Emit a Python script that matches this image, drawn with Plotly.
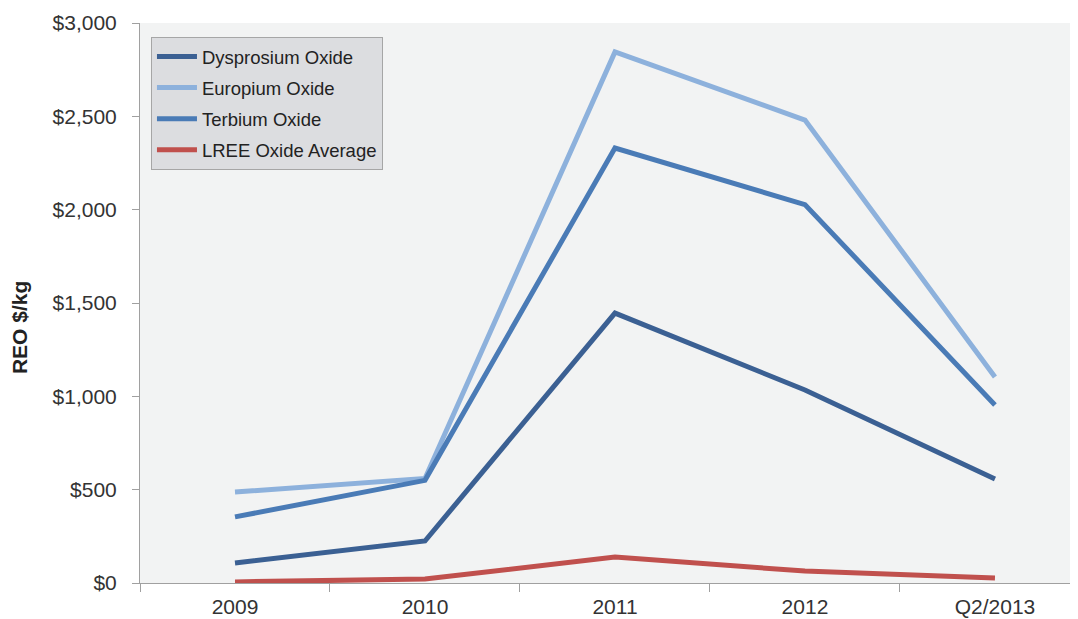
import plotly.graph_objects as go

categories = ["2009", "2010", "2011", "2012", "Q2/2013"]
dysprosium = [107, 225, 1446, 1034, 557]
europium = [487, 560, 2845, 2480, 1104]
terbium = [354, 550, 2330, 2027, 954]
lree = [6, 21, 139, 64, 27]

y_ticks = [0, 500, 1000, 1500, 2000, 2500, 3000]
y_tick_labels = ["$0", "$500", "$1,000", "$1,500", "$2,000", "$2,500", "$3,000"]

series = [
    ("Dysprosium Oxide", dysprosium, "#3b6093"),
    ("Europium Oxide", europium, "#8db1dc"),
    ("Terbium Oxide", terbium, "#4a7bb6"),
    ("LREE Oxide Average", lree, "#c0504d"),
]

fig = go.Figure()
for i, (name, vals, col) in enumerate(series):
    fig.add_trace(go.Scatter(
        x=categories, y=vals, name=name, mode="lines",
        line=dict(color=col, width=5), legendgroup=f"g{i}",
    ))

fig.update_layout(
    width=1070, height=611,
    margin=dict(l=132, r=0, t=15, b=36),
    paper_bgcolor="white", plot_bgcolor="#f2f3f3",
    font=dict(family="Liberation Sans, Arial", color="#333333"),
    showlegend=True,
    legend=dict(
        x=0.0117, y=0.975, xanchor="left", yanchor="top",
        bgcolor="#dcdde0", bordercolor="#a6a6a6", borderwidth=1,
        font=dict(size=18.5, color="#222222"),
        traceorder="grouped", tracegroupgap=4, itemwidth=40,
        entrywidth=245, entrywidthmode="pixels",
    ),
    xaxis=dict(
        type="category", showgrid=False, showline=True, linecolor="#a0a0a0",
        ticks="outside", tickson="boundaries", ticklen=8, tickcolor="#a0a0a0",
        tickfont=dict(size=21, color="#333333"), range=[-0.5, 4.437],
        ticklabelstandoff=5,
    ),
    yaxis=dict(
        range=[0, 3000], tickvals=y_ticks, ticktext=y_tick_labels,
        showgrid=False, showline=True, linecolor="#a0a0a0", zeroline=False,
        ticks="outside", ticklen=7, tickcolor="#a0a0a0",
        tickfont=dict(size=21, color="#333333"),
        ticklabelstandoff=11,
    ),
    annotations=[dict(
        text="<b>REO $/kg</b>", textangle=-90, showarrow=False,
        xref="paper", yref="paper", x=-0.129, y=0.457,
        xanchor="center", yanchor="middle",
        font=dict(size=21, color="#222222"),
    )],
)

fig.write_html("out.html")
